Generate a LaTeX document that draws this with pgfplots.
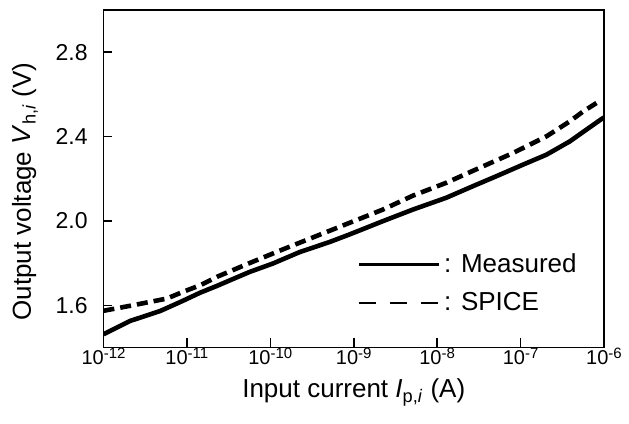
\documentclass[border=0pt]{standalone}
\usepackage{pgfplots}
\pgfplotsset{compat=1.18}
\usepackage{fontspec}
\setmainfont{Liberation Sans}
\newcommand{\tp}[1]{10\raisebox{0.32em}{\fontsize{7.5bp}{8bp}\selectfont #1}}
\begin{document}
\begin{tikzpicture}
\begin{axis}[
  name=ax, at={(0,0)}, anchor=south west,
  scale only axis, width=250.25bp, height=168.75bp,
  xmode=log, xmin=1e-12, xmax=1e-6, ymin=1.4, ymax=3.0,
  axis line style={line width=0.9bp},
  tick pos=left,
  xminorticks=false, yminorticks=false,
  xtick={1e-12,1e-11,1e-10,1e-9,1e-8,1e-7,1e-6},
  xticklabels={\tp{-12},\tp{-11},\tp{-10},\tp{-9},\tp{-8},\tp{-7},\tp{-6}},
  ytick={1.6,2.0,2.4,2.8}, yticklabels={1.6,2.0,2.4,2.8},
  major tick length=4.5bp,
  every tick/.style={black, line width=0.8bp},
  xticklabel style={font=\fontsize{10bp}{12bp}\selectfont, anchor=base, inner sep=0pt, yshift=-8.5bp},
  yticklabel style={font=\fontsize{11.5bp}{13bp}\selectfont, anchor=east, inner sep=0pt, xshift=-7.75bp},
  xlabel={Input current \textit{I}\textsubscript{p,\textit{i}} (A)},
  ylabel={Output voltage \textit{V}\textsubscript{h,\textit{i}} (V)},
  label style={font=\fontsize{13bp}{15bp}\selectfont},
  x label style={at={(axis description cs:0.5,-0.1496)}, anchor=base, inner sep=0pt},
  y label style={at={(axis description cs:-0.1568,0.462)}, anchor=center, inner sep=0pt},
  legend image code/.code={\draw[#1] (0bp,0bp) -- (40bp,0bp);},
  legend style={draw=none, fill=none, at={(axis description cs:0.5065,0.1896)}, anchor=west,
    inner sep=0pt, row sep=7.5bp, column sep=1.5bp,
    font=\fontsize{13bp}{15bp}\selectfont,
    nodes={inner sep=0.5bp, anchor=west}},
  legend cell align=left,
]
\addlegendimage{black, line width=1.4bp}
\addlegendentry{: Measured}
\addlegendimage{black, line width=1.4bp, dash pattern=on 8.5bp off 7bp}
\addlegendentry{: SPICE}
\addplot[black, line width=2.3bp, forget plot] coordinates {
(1e-12,1.463) (2.089e-12,1.526) (4.786e-12,1.573) (8.913e-12,1.621)
(1.445e-11,1.660) (2.291e-11,1.692) (5.623e-11,1.758) (1.072e-10,1.798)
(2.239e-10,1.852) (5.129e-10,1.900) (8.913e-10,1.936) (2.239e-9,1.999)
(5.129e-9,2.054) (1.288e-8,2.110) (2.692e-8,2.165) (5.129e-8,2.212)
(1.072e-7,2.267) (2.042e-7,2.314) (3.890e-7,2.377) (6.166e-7,2.433)
(9.333e-7,2.483) (1e-6,2.490)
};
\addplot[black, line width=2.3bp, dash pattern=on 5.5bp off 3bp, forget plot] coordinates {
(1e-12,1.574) (2.239e-12,1.600) (5.754e-12,1.632) (9.120e-12,1.665)
(1.445e-11,1.695) (2.291e-11,1.735) (5.623e-11,1.800) (1.413e-10,1.865)
(3.548e-10,1.928) (8.913e-10,1.991) (2.239e-9,2.054) (5.129e-9,2.120)
(1.288e-8,2.181) (3.236e-8,2.252) (8.128e-8,2.322) (2.042e-7,2.401)
(3.890e-7,2.472) (5.623e-7,2.519) (8.128e-7,2.559)
};
\end{axis}
\pgfresetboundingbox
\path ([shift={(-51.75bp,-38.25bp)}]ax.south west) rectangle ([shift={(12.5bp,5bp)}]ax.north east);
\end{tikzpicture}
\end{document}
